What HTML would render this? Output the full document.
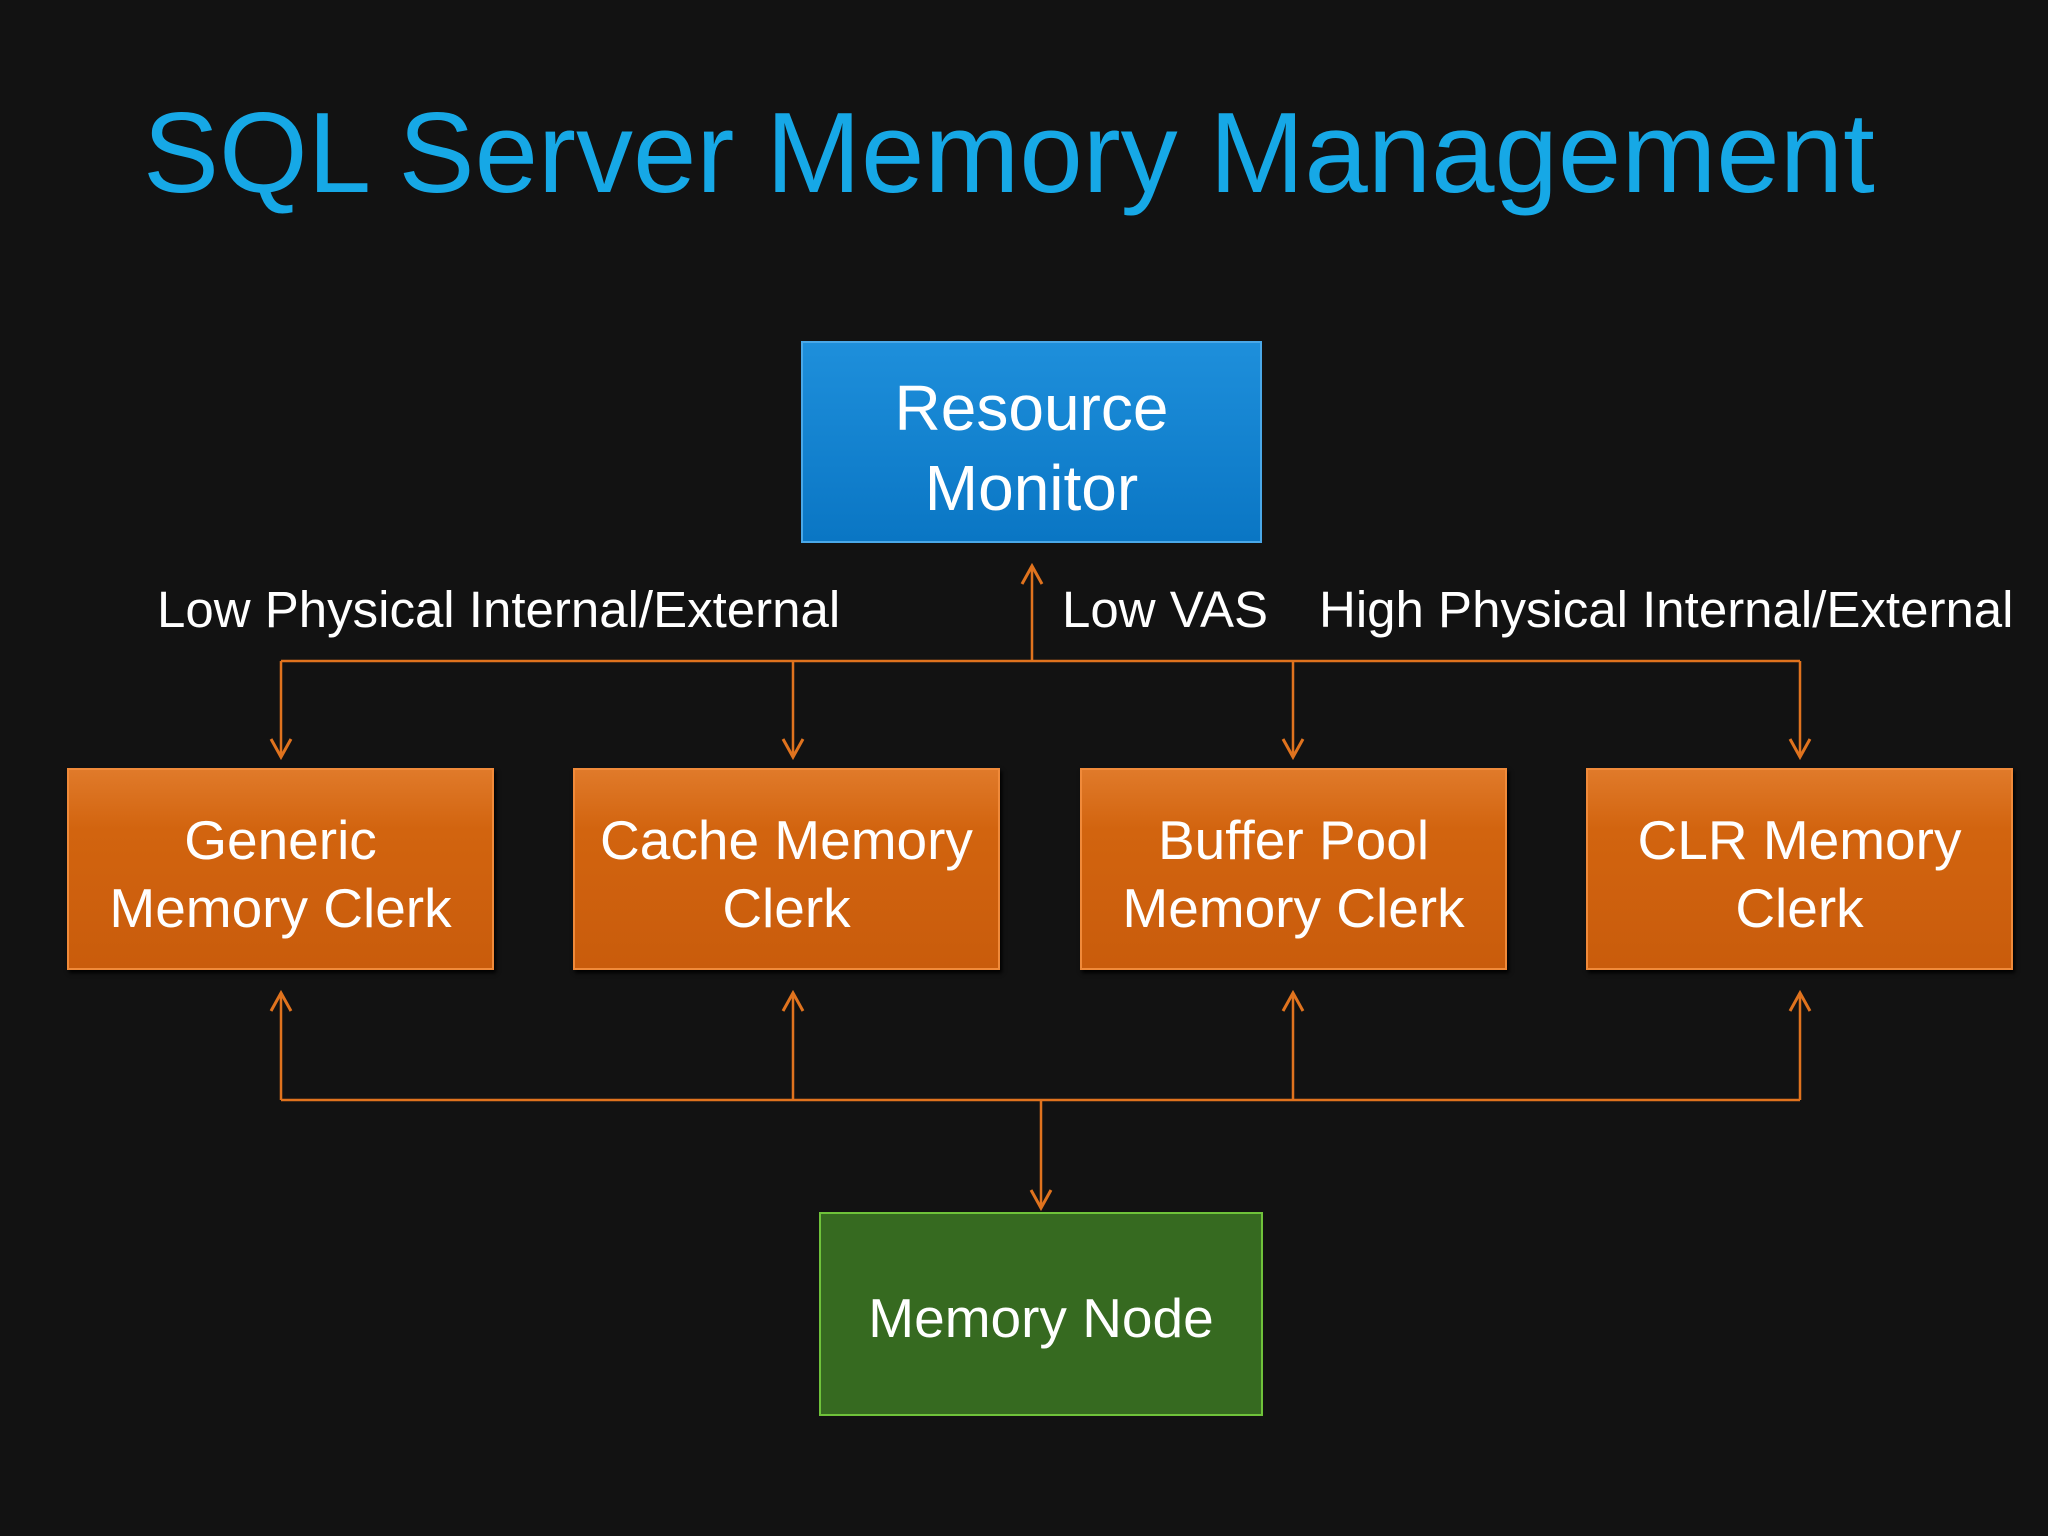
<!DOCTYPE html>
<html><head><meta charset="utf-8"><style>
html,body{margin:0;padding:0}
body{width:2048px;height:1536px;background:#121212;position:relative;overflow:hidden;font-family:"Liberation Sans",Arial,sans-serif}
.t{position:absolute;color:#fff;white-space:nowrap}
.box{position:absolute;display:flex;align-items:center;justify-content:center;text-align:center;color:#fff;box-sizing:border-box}
.or{background:linear-gradient(#e07a2a,#d2640f 30%,#c95c0c);border:2px solid #f08a3a;font-size:55px;line-height:68px;box-shadow:2px 3px 4px #000;padding-top:10px}
</style></head><body>
<div class="t" style="left:143px;top:88px;font-size:114px;color:#16a8e6">SQL Server Memory Management</div>
<div class="box" style="left:801px;top:341px;width:461px;height:202px;background:linear-gradient(#1e8fdb,#0a76c4);border:2px solid #4aa8e8;font-size:64px;line-height:80px;padding-top:12px">Resource<br>Monitor</div>
<div class="box or" style="left:67px;top:768px;width:427px;height:202px">Generic<br>Memory Clerk</div>
<div class="box or" style="left:573px;top:768px;width:427px;height:202px">Cache Memory<br>Clerk</div>
<div class="box or" style="left:1080px;top:768px;width:427px;height:202px">Buffer Pool<br>Memory Clerk</div>
<div class="box or" style="left:1586px;top:768px;width:427px;height:202px">CLR Memory<br>Clerk</div>
<div class="box" style="left:819px;top:1212px;width:444px;height:204px;background:#366a20;border:2px solid #6fc23a;font-size:55px;padding-top:8px">Memory Node</div>
<div class="t" style="left:157px;top:580px;font-size:51px">Low Physical Internal/External</div>
<div class="t" style="left:1062px;top:580px;font-size:51px">Low VAS</div>
<div class="t" style="left:1319px;top:580px;font-size:51px">High Physical Internal/External</div>
<svg width="2048" height="1536" style="position:absolute;left:0;top:0" fill="none" stroke="#e0731e" stroke-width="2.5">
<path d="M281 661H1800M1032 661V566M281 661V757M793 661V757M1293 661V757M1800 661V757"/>
<path d="M281 1100H1800M281 1100V993M793 1100V993M1293 1100V993M1800 1100V993M1041 1100V1208"/>
<g stroke-width="3">
<path d="M1022 584L1032 566L1042 584"/>
<path d="M271 739L281 757L291 739M783 739L793 757L803 739M1283 739L1293 757L1303 739M1790 739L1800 757L1810 739"/>
<path d="M271 1011L281 993L291 1011M783 1011L793 993L803 1011M1283 1011L1293 993L1303 1011M1790 1011L1800 993L1810 1011"/>
<path d="M1031 1190L1041 1208L1051 1190"/>
</g>
</svg>
</body></html>
